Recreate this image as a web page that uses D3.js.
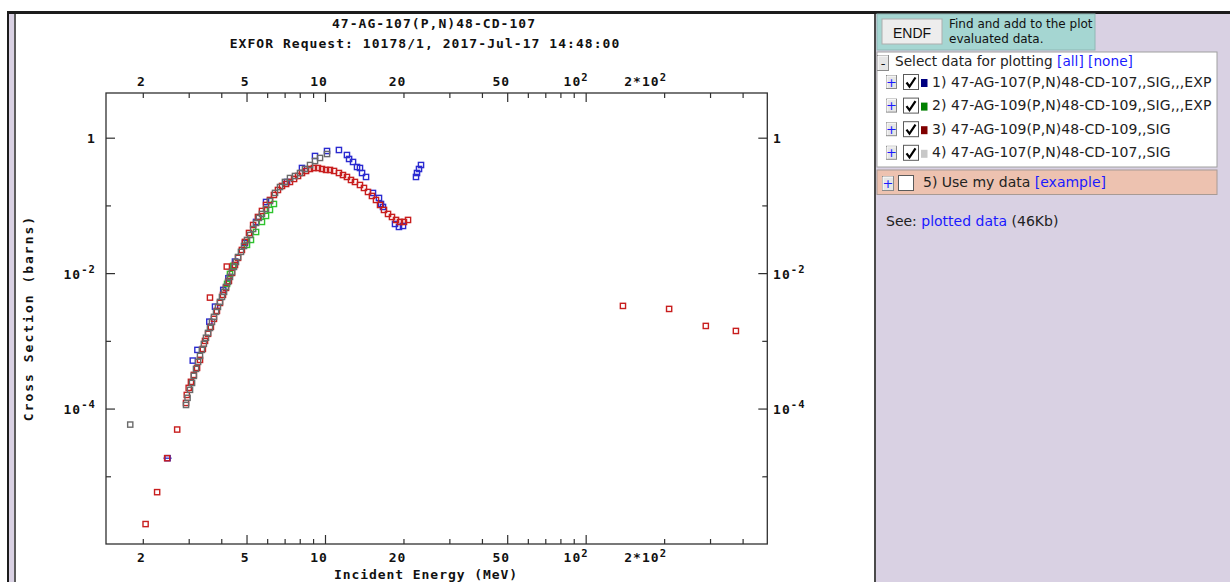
<!DOCTYPE html>
<html><head><meta charset="utf-8">
<script src="https://cdn.jsdelivr.net/npm/d3@7/dist/d3.min.js"></script>
<style>
body{margin:0;background:#fff;}
svg{display:block;}
</style></head><body>
<svg id="c" width="1230" height="582"></svg>
<script>
// 47-AG-107(P,N) cross sections, [E (MeV), sigma (b)]
const blueData = [
  [2.49,1.85e-5],[3.11,5.11e-4],[3.24,7.35e-4],[3.60,1.92e-3],[3.785,3.20e-3],[4.07,5.65e-3],
  [4.26,8.41e-3],[4.515,1.48e-2],[4.93,0.0279],[5.44,0.0570],[5.94,0.1124],[7.15,0.222],
  [8.16,0.357],[9.155,0.537],[10.18,0.636],[11.31,0.658],[12.14,0.555],[12.37,0.485],
  [12.81,0.438],[13.27,0.369],[13.62,0.357],[13.87,0.301],[14.37,0.263],[15.28,0.1527],
  [16.11,0.1288],[16.40,0.105],[16.69,0.0949],[18.56,0.0532],[19.22,0.0481],[19.92,0.0497],
  [22.34,0.263],[22.54,0.301],[22.94,0.345],[23.35,0.395]
];
const blueErr = [[2.49,1.85e-5,0.09]];
const greenData = [
  [4.21,6.93e-3],[4.32,9.73e-3],[4.44,1.28e-2],[5.02,0.0261],[5.20,0.0309],[5.44,0.0405],
  [5.73,0.0570],[5.94,0.0699],[6.15,0.0857],[6.37,0.105]
];
const redData = [
  [2.05,1.97e-6],[2.27,5.83e-6],[2.48,1.85e-5],[2.71,4.90e-5],
  [2.93,1.21e-4],[2.95,1.59e-4],[3.00,2.02e-4],[3.06,2.48e-4],[3.14,3.14e-4],[3.23,3.99e-4],
  [3.315,5.23e-4],[3.40,7.60e-4],[3.465,9.98e-4],[3.56,1.27e-3],[3.65,1.61e-3],[3.75,2.11e-3],
  [3.85,2.77e-3],[3.955,3.63e-3],[4.06,4.77e-3],[4.17,6.05e-3],[4.28,7.67e-3],[4.40,1.007e-2],
  [4.515,1.32e-2],[4.64,1.68e-2],[4.80,0.0220],[4.93,0.0289],[5.11,0.0392],[5.30,0.0514],
  [5.53,0.0675],[5.73,0.0828],[5.94,0.1015],[6.15,0.1203],[6.37,0.1426],[6.60,0.169],
  [6.84,0.1937],[7.09,0.2073],[7.34,0.222],[7.61,0.2457],[7.88,0.272],[8.16,0.301],
  [8.46,0.3225],[8.76,0.345],[9.07,0.357],[9.40,0.357],[9.74,0.345],[10.09,0.334],
  [10.45,0.334],[10.83,0.3225],[11.31,0.301],[11.72,0.281],[12.14,0.263],[12.58,0.2375],
  [13.03,0.222],[13.62,0.2003],[14.11,0.181],[14.62,0.158],[15.14,0.1379],[15.69,0.1203],
  [16.26,0.1015],[16.84,0.0857],[17.45,0.0748],[18.07,0.0675],[18.73,0.0610],[19.40,0.0570],
  [20.09,0.0570],[20.82,0.0610],
  [3.62,4.35e-3],[4.20,1.25e-2],
  [139,3.28e-3],[209,2.96e-3],[289,1.66e-3],[377,1.40e-3]
];
const grayData = [
  [1.79,5.8e-5],
  [2.93,1.13e-4],[2.97,1.44e-4],[3.035,1.89e-4],[3.09,2.39e-4],[3.14,3.04e-4],[3.20,3.85e-4],
  [3.26,4.89e-4],[3.315,5.99e-4],[3.37,7.35e-4],[3.43,9.02e-4],[3.495,1.11e-3],[3.56,1.31e-3],
  [3.62,1.55e-3],[3.685,1.90e-3],[3.75,2.26e-3],[3.82,2.68e-3],[3.885,3.17e-3],[3.955,3.76e-3],
  [4.025,4.45e-3],[4.10,5.28e-3],[4.17,6.26e-3],[4.245,7.42e-3],[4.32,8.79e-3],[4.40,1.04e-2],
  [4.475,1.235e-2],[4.555,1.46e-2],[4.64,1.73e-2],[4.76,2.06e-2],[4.89,2.52e-2],[5.02,3.09e-2],
  [5.16,3.66e-2],[5.30,4.49e-2],[5.44,5.51e-2],[5.58,6.53e-2],[5.73,7.48e-2],[5.94,8.86e-2],
  [6.15,0.116],[6.43,0.153],[6.72,0.187],[7.02,0.222],[7.34,0.254],[7.67,0.272],[8.02,0.301],
  [8.38,0.345],[8.76,0.395],[9.155,0.453],[9.57,0.502],[10.18,0.574]
];

// ticks
const xLong = [5,10,50,100];
const xShort = [2,3,4,6,7,8,9,20,30,40,60,70,80,90,200,300,400];
const xLabelVals = [2,5,10,20,50,100,200];
const xLabelBase = ["2","5","10","20","50","10","2*10"];
const xLabelSup = ["","","","","","2","2"];
const yLong = [1,1e-2,1e-4];
const yShort = [1e-1,1e-3,1e-5];
const yLabelBase = ["1","10","10"];
const yLabelSup = ["","-2","-4"];

const legendNames = [
  "1) 47-AG-107(P,N)48-CD-107,,SIG,,,EXP",
  "2) 47-AG-109(P,N)48-CD-109,,SIG,,,EXP",
  "3) 47-AG-109(P,N)48-CD-109,,SIG",
  "4) 47-AG-107(P,N)48-CD-107,,SIG"
];
const legendColors = ["#000080","#008000","#800000","#c8c8c8"];

const W = 1230, H = 582;
const svg = d3.select("#c");
const mono = "'DejaVu Sans Mono', 'Liberation Mono', monospace";
const sans = "'DejaVu Sans', Verdana, sans-serif";

// page frame
svg.append("rect").attr("x",7).attr("y",11).attr("width",W-7).attr("height",H-11).attr("fill","#1c1c1c");
svg.append("rect").attr("x",9).attr("y",14).attr("width",W-9).attr("height",H-14).attr("fill","#d9d1e3");
svg.append("rect").attr("x",14).attr("y",14).attr("width",2).attr("height",H).attr("fill","#5c5c5c");
svg.append("rect").attr("x",16).attr("y",14).attr("width",858).attr("height",H).attr("fill","#fff");
svg.append("rect").attr("x",874).attr("y",14).attr("width",2).attr("height",H).attr("fill","#4a4a4a");

// scales
const x = d3.scaleLog().domain([1.445,497.5]).range([106,767.3]);
const y = d3.scaleLog().domain([1e-6,4.57]).range([544,93]);
const L = 106, R = 767.3, T = 93, B = 544;

const plot = svg.append("g");

function addAxis(gen, tr, vals, size){
  const g = plot.append("g").attr("transform",tr)
    .call(gen.tickValues(vals).tickSize(size).tickSizeOuter(0).tickFormat(""));
  g.select(".domain").remove();
  g.selectAll(".tick line").attr("stroke","#303030").attr("stroke-width",1.2);
}
addAxis(d3.axisBottom(x), `translate(0,${T})`, xLong, 9);
addAxis(d3.axisBottom(x), `translate(0,${T})`, xShort, 5);
addAxis(d3.axisTop(x), `translate(0,${B})`, xLong, 9);
addAxis(d3.axisTop(x), `translate(0,${B})`, xShort, 5);
addAxis(d3.axisRight(y), `translate(${L},0)`, yLong, 9);
addAxis(d3.axisRight(y), `translate(${L},0)`, yShort, 5);
addAxis(d3.axisLeft(y), `translate(${R},0)`, yLong, 9);
addAxis(d3.axisLeft(y), `translate(${R},0)`, yShort, 5);

plot.append("rect").attr("x",L).attr("y",T).attr("width",R-L).attr("height",B-T)
  .attr("fill","none").attr("stroke","#303030").attr("stroke-width",1.3);

function label(sel, base, sup, supDy){
  sel.append("tspan").text(base);
  if (sup) sel.append("tspan").attr("font-size","10.5px").attr("dy",supDy).text(sup);
}
const txtStyle = s => s.attr("font-family",mono).attr("font-weight","bold")
  .attr("font-size","13px").attr("letter-spacing","1.05px").attr("fill","#111");

// x tick labels, top and bottom
[86, 562].forEach(by => {
  xLabelVals.forEach((v,i) => {
    const t = plot.append("text").attr("x",x(v)+3).attr("y",by).attr("text-anchor","end").call(txtStyle);
    label(t, xLabelBase[i], xLabelSup[i], -5);
  });
});
// y tick labels, left and right
yLong.forEach((v,i) => {
  const tl = plot.append("text").attr("x",96).attr("y",y(v)+5.5).attr("text-anchor","end").call(txtStyle);
  label(tl, yLabelBase[i], yLabelSup[i], -6);
  const tr = plot.append("text").attr("x",773).attr("y",y(v)+5.5).call(txtStyle);
  label(tr, yLabelBase[i], yLabelSup[i], -6);
});

// titles
plot.append("text").attr("x",434).attr("y",28).attr("text-anchor","middle").call(txtStyle)
  .text("47-AG-107(P,N)48-CD-107");
plot.append("text").attr("x",425).attr("y",48).attr("text-anchor","middle").call(txtStyle)
  .text("EXFOR Request: 10178/1, 2017-Jul-17 14:48:00");
plot.append("text").attr("x",426).attr("y",579).attr("text-anchor","middle").call(txtStyle)
  .attr("letter-spacing","0.93px").text("Incident Energy (MeV)");
plot.append("text").attr("transform","translate(33,318) rotate(-90)").attr("text-anchor","middle")
  .call(txtStyle).attr("letter-spacing","2px").text("Cross Section (barns)");

// data markers
function drawSeries(data, color){
  plot.append("g").selectAll("rect").data(data).join("rect")
    .attr("x",d => x(d[0])-2.6).attr("y",d => y(d[1])-2.6)
    .attr("width",5.2).attr("height",5.2)
    .attr("fill","none").attr("stroke",color).attr("stroke-width",1.4);
}
plot.append("g").selectAll("line").data(blueErr).join("line")
  .attr("x1",d => x(d[0]-d[2])).attr("x2",d => x(d[0]+d[2]))
  .attr("y1",d => y(d[1])).attr("y2",d => y(d[1]))
  .attr("stroke","#2a2ad0").attr("stroke-width",1.3);
drawSeries(blueData,"#2a2ad0");
drawSeries(greenData,"#2ec42e");
drawSeries(redData,"#c81e1e");
drawSeries(grayData,"#6a6a6a");

// ---------- right panel ----------
const panel = svg.append("g");

function btn(px, py, w, h, sym, col){
  panel.append("rect").attr("x",px).attr("y",py).attr("width",w).attr("height",h)
    .attr("fill","#e6e6e6").attr("stroke","#8a8a8a").attr("stroke-width",1);
  panel.append("path").attr("d",`M${px+0.5},${py+h-0.5}V${py+0.5}H${px+w-0.5}`)
    .attr("fill","none").attr("stroke","#fff").attr("stroke-width",1);
  panel.append("text").attr("x",px+w/2).attr("y",py+h/2+4.5).attr("text-anchor","middle")
    .attr("font-family",sans).attr("font-size","13px").attr("fill",col).text(sym);
}
function checkbox(px, py, checked){
  panel.append("rect").attr("x",px).attr("y",py).attr("width",15).attr("height",15)
    .attr("fill","#fff").attr("stroke","#5a5a5a").attr("stroke-width",1);
  if (checked) panel.append("path").attr("d",`M${px+3},${py+8} L${px+6},${py+12} L${px+12},${py+3}`)
    .attr("fill","none").attr("stroke","#000").attr("stroke-width",2.2);
}

// ENDF box
panel.append("rect").attr("x",877).attr("y",14).attr("width",218).attr("height",36)
  .attr("fill","#a5d6d2").attr("stroke","#8fb8b5");
panel.append("rect").attr("x",882).attr("y",19).attr("width",60).attr("height",25)
  .attr("fill","#ededed").attr("stroke","#adadad");
panel.append("text").attr("x",912).attr("y",37.5).attr("text-anchor","middle")
  .attr("font-family","'Liberation Sans', Arial, sans-serif").attr("font-size","14px").attr("fill","#111").text("ENDF");
panel.append("text").attr("x",949).attr("y",28).attr("font-family",sans).attr("font-size","12px")
  .attr("fill","#111").text("Find and add to the plot");
panel.append("text").attr("x",949).attr("y",43).attr("font-family",sans).attr("font-size","12px")
  .attr("fill","#111").text("evaluated data.");

// data selection box
panel.append("defs").append("clipPath").attr("id","clipSel")
  .append("rect").attr("x",877).attr("y",52).attr("width",340).attr("height",115);
panel.append("rect").attr("x",877).attr("y",52).attr("width",340).attr("height",115)
  .attr("fill","#fff").attr("stroke","#a0a0a0");
btn(877.5,55.5,11,15,"-","#111");
const sel = panel.append("text").attr("x",895).attr("y",66).attr("font-family",sans).attr("font-size","13.7px").attr("fill","#222");
sel.append("tspan").text("Select data for plotting ");
sel.append("tspan").attr("fill","#1a1aff").text("[all] [none]");

const rowClip = panel.append("g").attr("clip-path","url(#clipSel)");
legendNames.forEach((name,i) => {
  const cy = 82 + i*23.6;
  btn(886.5, cy-6.5, 10, 13, "+", "#1a1aff");
  checkbox(903.5, cy-7.5, true);
  panel.append("rect").attr("x",921).attr("y",cy-3).attr("width",6.5).attr("height",8).attr("fill",legendColors[i]);
  rowClip.append("text").attr("x",932).attr("y",cy+4.5).attr("font-family",sans)
    .attr("font-size","14px").attr("letter-spacing","0.1px").attr("fill","#222").text(name);
});

// use my data
panel.append("rect").attr("x",877).attr("y",170).attr("width",340).attr("height",24.5)
  .attr("fill","#edc2b0").attr("stroke","#a89a94");
btn(882.5,176.5,11,14,"+","#1a1aff");
checkbox(898.5,175.5,false);
const um = panel.append("text").attr("x",923).attr("y",187).attr("font-family",sans).attr("font-size","14px").attr("fill","#222");
um.append("tspan").text("5) Use my data ");
um.append("tspan").attr("fill","#1a1aff").text("[example]");

const see = panel.append("text").attr("x",886).attr("y",226).attr("font-family",sans).attr("font-size","14px").attr("fill","#222");
see.append("tspan").text("See: ");
see.append("tspan").attr("fill","#1a1aff").text("plotted data");
see.append("tspan").text(" (46Kb)");
</script>
</body></html>
